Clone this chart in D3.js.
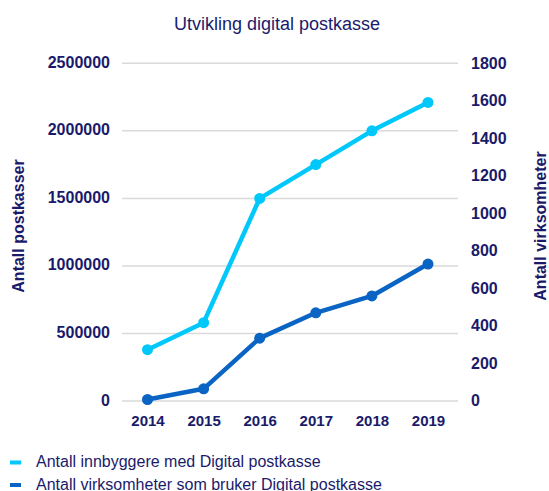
<!DOCTYPE html>
<html>
<head>
<meta charset="utf-8">
<script src="https://cdn.jsdelivr.net/npm/d3@7"></script>
<style>
  body { margin: 0; background: #fff; }
  svg text { font-family: "Liberation Sans", Arial, sans-serif; fill: #1a1a6b; }
</style>
</head>
<body>
<svg id="chart"></svg>
<script>
// data
var years = ["2014", "2015", "2016", "2017", "2018", "2019"];
var innbyggere = [380000, 580000, 1500000, 1750000, 2000000, 2210000];
var virksomheter = [8, 65, 335, 470, 560, 730];
var leftTicks = [0, 500000, 1000000, 1500000, 2000000, 2500000];
var rightTicks = [0, 200, 400, 600, 800, 1000, 1200, 1400, 1600, 1800];
var seriesNames = ["Antall innbyggere med Digital postkasse", "Antall virksomheter som bruker Digital postkasse"];
var colors = ["#00c8fa", "#0a64c3"];

var width = 549, height = 491;
var svg = d3.select("#chart").attr("width", width).attr("height", height);

var x = d3.scalePoint().domain(years).range([147.5, 428]);
var yLeft = d3.scaleLinear().domain([0, 2500000]).range([401, 63.3]);
var yRight = d3.scaleLinear().domain([0, 1800]).range([401, 63.3]);

// title
svg.append("text")
  .attr("x", 277).attr("y", 30)
  .attr("text-anchor", "middle")
  .style("font-size", "18px")
  .text("Utvikling digital postkasse");

// gridlines
svg.append("g").selectAll("line")
  .data(leftTicks).enter().append("line")
  .attr("x1", 122).attr("x2", 458)
  .attr("y1", function(d) { return yLeft(d); })
  .attr("y2", function(d) { return yLeft(d); })
  .attr("stroke", "#dadada").attr("stroke-width", 1.5);

// left axis
var leftAxis = svg.append("g")
  .attr("transform", "translate(110,0)")
  .call(d3.axisLeft(yLeft).tickValues(leftTicks).tickSize(0).tickPadding(0).tickFormat(d3.format("d")));
leftAxis.select(".domain").remove();
leftAxis.selectAll("text").style("font-size", "16px").style("font-weight", "bold").attr("dy", "0.25em");

// right axis
var rightAxis = svg.append("g")
  .attr("transform", "translate(471,0)")
  .call(d3.axisRight(yRight).tickValues(rightTicks).tickSize(0).tickPadding(0).tickFormat(d3.format("d")));
rightAxis.select(".domain").remove();
rightAxis.selectAll("text").style("font-size", "16px").style("font-weight", "bold").attr("dy", "0.3em");

// x axis
var xAxis = svg.append("g")
  .attr("transform", "translate(0,412)")
  .call(d3.axisBottom(x).tickSize(0).tickPadding(0));
xAxis.select(".domain").remove();
xAxis.selectAll("text").style("font-size", "15px").style("font-weight", "bold").attr("dy", "0.95em");

// axis titles
svg.append("text")
  .attr("transform", "translate(24,226) rotate(-90)")
  .attr("text-anchor", "middle")
  .style("font-size", "16px").style("font-weight", "bold")
  .text("Antall postkasser");
svg.append("text")
  .attr("transform", "translate(546,226) rotate(-90)")
  .attr("text-anchor", "middle")
  .style("font-size", "16px").style("font-weight", "bold")
  .text("Antall virksomheter");

// series
var series = [
  { values: innbyggere, y: yLeft, color: colors[0] },
  { values: virksomheter, y: yRight, color: colors[1] }
];

series.forEach(function(s) {
  var line = d3.line()
    .x(function(d, i) { return x(years[i]); })
    .y(function(d) { return s.y(d); });
  svg.append("path")
    .datum(s.values)
    .attr("d", line)
    .attr("fill", "none")
    .attr("stroke", s.color)
    .attr("stroke-width", 4.5)
    .attr("stroke-linejoin", "round");
  svg.append("g").selectAll("circle")
    .data(s.values).enter().append("circle")
    .attr("cx", function(d, i) { return x(years[i]); })
    .attr("cy", function(d) { return s.y(d); })
    .attr("r", 5.5)
    .attr("fill", s.color);
});

// legend
var legend = svg.append("g").selectAll("g")
  .data(seriesNames).enter().append("g")
  .attr("transform", function(d, i) { return "translate(0," + (i * 22.5) + ")"; });
legend.append("rect")
  .attr("x", 10).attr("y", 460.5)
  .attr("width", 11).attr("height", 4)
  .attr("fill", function(d, i) { return colors[i]; });
legend.append("text")
  .attr("x", 36).attr("y", 467)
  .style("font-size", "16px")
  .text(function(d) { return d; });
</script>
</body>
</html>
